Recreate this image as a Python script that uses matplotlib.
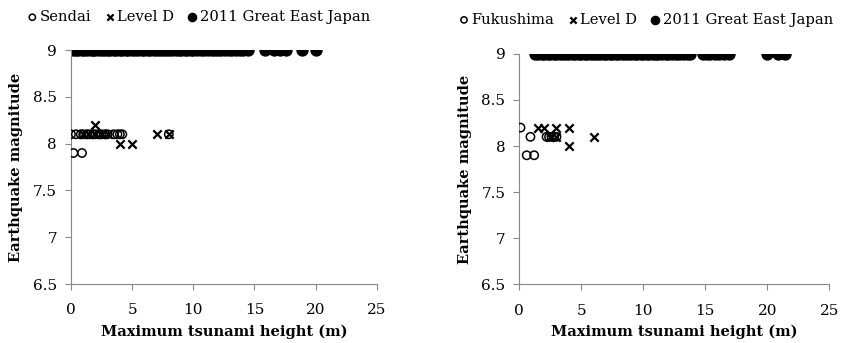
import matplotlib.pyplot as plt

plt.rcParams['font.family'] = ['DejaVu Serif']

# left panel: Sendai
sendai_x = [0.0, 0.4, 0.8, 1.0, 1.3, 1.5, 1.8, 2.0, 2.3, 2.5, 2.8, 3.0, 3.5, 3.8, 4.0, 4.2, 8.0, 0.2, 0.9]
sendai_y = [8.1] * 17 + [7.9, 7.9]
sendai_d_x = [2.0, 1.0, 1.5, 2.0, 2.5, 3.0, 4.0, 5.0, 7.0, 8.0]
sendai_d_y = [8.2, 8.1, 8.1, 8.1, 8.1, 8.1, 8.0, 8.0, 8.1, 8.1]
sendai_gej_x = [0.2, 0.4, 0.6, 0.9, 1.1, 1.3, 1.6, 1.8, 2.0, 2.3, 2.5, 2.8, 3.0, 3.2, 3.5,
                3.7, 4.0, 4.2, 4.5, 4.7, 5.0, 5.2, 5.5, 5.8, 6.0, 6.3, 6.5, 6.8, 7.0, 7.3,
                7.5, 7.8, 8.0, 8.3, 8.6, 8.8, 9.0, 9.3, 9.5, 9.8, 10.0, 10.3, 10.6, 10.9,
                11.2, 11.5, 11.8, 12.0, 12.3, 12.6, 12.9, 13.2, 13.5, 13.8, 14.1, 14.5,
                15.9, 16.6, 17.1, 17.6, 18.9, 20.0]

# right panel: Fukushima
fuku_x = [0.1, 0.9, 0.6, 1.2, 2.2, 2.4, 2.6, 2.8, 3.0]
fuku_y = [8.2, 8.1, 7.9, 7.9, 8.1, 8.1, 8.1, 8.1, 8.1]
fuku_d_x = [1.5, 2.0, 3.0, 4.0, 4.0, 6.0, 2.5, 3.0]
fuku_d_y = [8.2, 8.2, 8.2, 8.2, 8.0, 8.1, 8.1, 8.1]
fuku_gej_x = [1.3, 1.5, 1.8, 2.0, 2.3, 2.5, 2.8, 3.0, 3.3, 3.5, 3.8, 4.0, 4.3, 4.5, 4.8,
              5.0, 5.3, 5.5, 5.8, 6.0, 6.3, 6.5, 6.8, 7.0, 7.3, 7.5, 7.8, 8.0, 8.3, 8.5,
              8.8, 9.0, 9.3, 9.5, 9.8, 10.0, 10.3, 10.5, 10.8, 11.0, 11.2, 11.5, 11.8,
              12.0, 12.3, 12.6, 12.9, 13.2, 13.5, 13.8, 14.8, 15.1, 15.4, 15.8, 16.1,
              16.5, 16.9, 20.0, 20.9, 21.4]

xticks = [0, 5, 10, 15, 20, 25]
yticks = [6.5, 7, 7.5, 8, 8.5, 9]
ytick_labels = ['6.5', '7', '7.5', '8', '8.5', '9']

fig = plt.figure(figsize=(8.43, 3.43), dpi=100)
ax1 = fig.add_axes([0.0842, 0.172, 0.3626, 0.682])
ax2 = fig.add_axes([0.616, 0.171, 0.3677, 0.672])

panels = [
    (ax1, 'Sendai', sendai_x, sendai_y, sendai_d_x, sendai_d_y, sendai_gej_x, (0.414, 1.141)),
    (ax2, 'Fukushima', fuku_x, fuku_y, fuku_d_x, fuku_d_y, fuku_gej_x, (0.405, 1.148)),
]

for ax, site, cx, cy, dx, dy, gx, legpos in panels:
    ax.scatter(gx, [9] * len(gx), s=62, marker='o', color='black', zorder=2,
               label='2011 Great East Japan')
    ax.scatter(cx, cy, s=36, marker='o', facecolors='none', edgecolors='black',
               linewidths=1.1, zorder=3, label=site)
    ax.scatter(dx, dy, s=36, marker='x', color='black', linewidths=1.6, zorder=4,
               label='Level D')
    ax.set_xlim(0, 25)
    ax.set_ylim(6.5, 9)
    ax.set_xticks(xticks)
    ax.set_yticks(yticks)
    ax.set_yticklabels(ytick_labels)
    for s in ['top', 'right']:
        ax.spines[s].set_visible(False)
    for s in ['left', 'bottom']:
        ax.spines[s].set_color('#888888')
    ax.tick_params(direction='out', color='#888888', length=4, labelsize=11, pad=6)
    ax.tick_params(axis='x', pad=10)
    ax.set_xlabel('Maximum tsunami height (m)', fontsize=10.5, fontweight='bold', labelpad=5)
    ax.set_ylabel('Earthquake magnitude', fontsize=10.5, fontweight='bold', labelpad=7)
    h, l = ax.get_legend_handles_labels()
    order = [1, 2, 0]
    ax.legend([h[i] for i in order], [l[i] for i in order], ncol=3, frameon=False,
              loc='center', bbox_to_anchor=legpos, fontsize=10.6, handletextpad=0.0,
              columnspacing=0.75, handlelength=1.0, markerscale=0.75)

fig.savefig('out.png', dpi=100)
